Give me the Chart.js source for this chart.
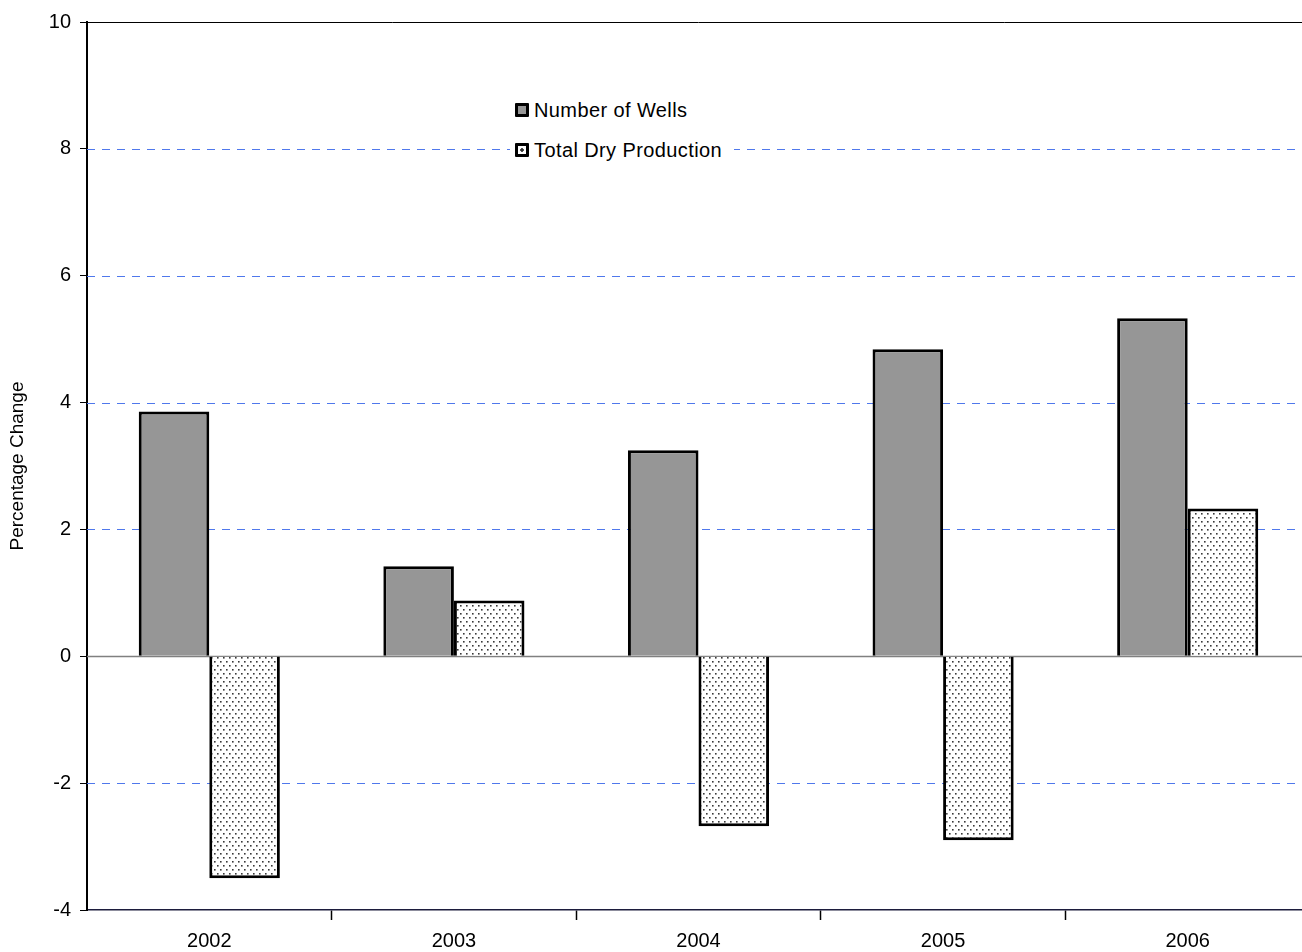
<!DOCTYPE html>
<html>
<head>
    <title>Percentage Change - Wells and Dry Production</title>
    <script src="https://cdn.jsdelivr.net/npm/chart.js"></script>
    <style>
        html, body { margin: 0; padding: 0; background: #fff; overflow: hidden; }
        #wrap { position: relative; width: 1312px; height: 952px; }
        #legend { position: absolute; left: 510px; top: 88px; background: #fff; padding: 2px 12px 2px 5px;
                  font-family: Arial, 'Liberation Sans', sans-serif; font-size: 20px; letter-spacing: 0.4px; color: #000; }
        #legend div { height: 40px; display: flex; align-items: center; }
        #legend .sw { width: 8px; height: 8px; border: 3px solid #000; border-radius: 1px; margin-right: 5px; }
    </style>
</head>
<body>
    <div id="wrap">
        <canvas id="chart"></canvas>
        <div id="legend"></div>
    </div>

    <script>
        // Data
        const years = ['2002', '2003', '2004', '2005', '2006'];
        const wells = [3.86, 1.42, 3.25, 4.84, 5.33];
        const dryProduction = [-3.5, 0.88, -2.68, -2.9, 2.33];
        const seriesNames = ['Number of Wells', 'Total Dry Production'];
        const yTicks = [-4, -2, 0, 2, 4, 6, 8, 10];

        const FONT = "Arial, 'Liberation Sans'";

        // dotted fill like the Excel pattern
        function dotPattern() {
            const c = document.createElement('canvas');
            c.width = 6; c.height = 8;
            const g = c.getContext('2d');
            g.fillStyle = '#fff';
            g.fillRect(0, 0, 6, 8);
            g.fillStyle = '#3a3a3a';
            g.fillRect(1, 1, 1.6, 1.6);
            g.fillRect(4, 5, 1.6, 1.6);
            return g.createPattern(c, 'repeat');
        }
        const dots = dotPattern();

        // horizontal grid lines drawn behind the bars
        const gridLines = {
            id: 'gridLines',
            beforeDatasetsDraw(chart) {
                const { ctx, chartArea } = chart;
                const y = chart.scales.y;
                ctx.save();
                yTicks.forEach(v => {
                    if (v === -4) return;
                    const py = Math.round(y.getPixelForValue(v)) + 0.5;
                    ctx.beginPath();
                    if (v === 0) {
                        ctx.strokeStyle = '#808080';
                        ctx.lineWidth = 1.5;
                        ctx.setLineDash([]);
                    } else if (v === 10) {
                        ctx.strokeStyle = '#000';
                        ctx.lineWidth = 1;
                        ctx.setLineDash([]);
                    } else {
                        ctx.strokeStyle = '#4f78ec';
                        ctx.lineWidth = 1;
                        ctx.setLineDash([8, 7]);
                    }
                    ctx.moveTo(chartArea.left, py);
                    ctx.lineTo(chartArea.right, py);
                    ctx.stroke();
                });
                ctx.restore();
            }
        };

        const ctx = document.getElementById('chart').getContext('2d');
        const chart = new Chart(ctx, {
            type: 'bar',
            data: {
                labels: years,
                datasets: [{
                    label: seriesNames[0],
                    data: wells,
                    backgroundColor: '#969696',
                    borderColor: '#000',
                    borderWidth: 3
                },
                {
                    label: seriesNames[1],
                    data: dryProduction,
                    backgroundColor: dots,
                    borderColor: '#000',
                    borderWidth: 3
                }]
            },
            options: {
                responsive: true,
                maintainAspectRatio: false,
                animation: false,
                categoryPercentage: 0.577,
                barPercentage: 1,
                layout: { padding: { top: 22, right: 2, left: 0, bottom: 0 } },
                scales: {
                    x: {
                        afterFit: s => { s.height = 42; },
                        grid: {
                            offset: true,
                            drawOnChartArea: false,
                            tickLength: 10,
                            tickColor: c => c.index === 0 ? 'rgba(0,0,0,0)' : '#000',
                            tickWidth: 1.5
                        },
                        border: { color: '#1c1c3c', width: 1.5 },
                        ticks: {
                            color: '#000',
                            padding: 9,
                            font: { family: FONT, size: 20 }
                        }
                    },
                    y: {
                        min: -4,
                        max: 10,
                        afterFit: s => { s.width = 87; },
                        afterBuildTicks: s => { s.ticks = yTicks.map(v => ({ value: v })); },
                        grid: {
                            drawOnChartArea: false,
                            tickLength: 7,
                            tickColor: '#000'
                        },
                        border: { color: '#000', width: 2 },
                        ticks: {
                            color: '#000',
                            padding: 9,
                            font: { family: FONT, size: 20 }
                        },
                        title: {
                            display: true,
                            text: 'Percentage Change',
                            color: '#000',
                            padding: { top: 6, bottom: 4 },
                            font: { family: FONT, size: 19 }
                        }
                    }
                },
                plugins: {
                    legend: { display: false },
                    tooltip: { enabled: false }
                }
            },
            plugins: [gridLines]
        });

        // legend inside the plot, built from the datasets
        const legend = document.getElementById('legend');
        chart.data.datasets.forEach(ds => {
            const row = document.createElement('div');
            const sw = document.createElement('span');
            sw.className = 'sw';
            if (typeof ds.backgroundColor === 'string') {
                sw.style.background = ds.backgroundColor;
            } else {
                sw.style.background = 'radial-gradient(circle, #333 0 1.5px, #fff 2px)';
            }
            const txt = document.createElement('span');
            txt.textContent = ds.label;
            row.appendChild(sw);
            row.appendChild(txt);
            legend.appendChild(row);
        });
    </script>
</body>
</html>
